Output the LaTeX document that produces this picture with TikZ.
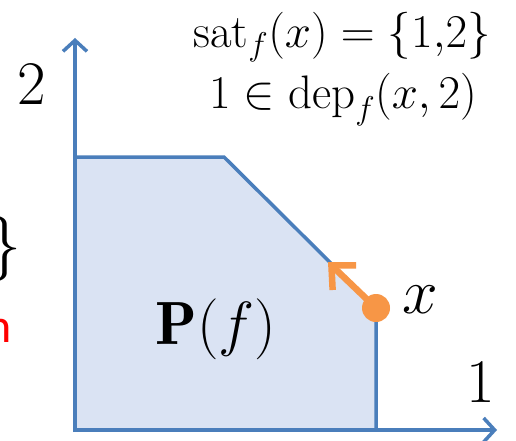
\RequirePackage{fix-cm}
\documentclass[tikz,border=0pt]{standalone}
\usepackage{fontspec}
\usetikzlibrary{arrows.meta}
\newfontfamily\calfont{Carlito}
\definecolor{axisblue}{HTML}{4A7EBB}
\definecolor{polyfill}{HTML}{DAE3F3}
\definecolor{dotorange}{HTML}{F79646}
\tikzset{
  axisline/.style={draw=axisblue, line width=3.5pt, -{Straight Barb[length=11pt,width=24pt]}},
  edgeline/.style={draw=axisblue, line width=3.5pt, line join=miter},
  bigtxt/.style={inner sep=0pt, font=\fontsize{62}{62}\selectfont},
  mathtxt/.style={inner sep=0pt, font=\fontsize{47}{47}\selectfont},
}
\begin{document}
\begin{tikzpicture}[x=1pt,y=-1pt]
\clip (0,0) rectangle (516,441);
\fill[white] (0,0) rectangle (516,441);
% region
\coordinate (o) at (75,430);
\coordinate (a) at (75,157);
\coordinate (b) at (224,157);
\coordinate (c) at (376,308);
\coordinate (d) at (376,430);
\fill[polyfill] (o) -- (a) -- (b) -- (c) -- (d) -- cycle;
\draw[edgeline] (a) -- (b) -- (c) -- (d);
% axes
\coordinate (ytip) at (75,38);
\coordinate (xtip) at (497,430);
\draw[axisline] (75,432) -- (ytip);
\draw[axisline] (73,430) -- (xtip);
% labels
\node[bigtxt] (two) at (32,85) {$2$};
\node[bigtxt] (one) at (481,383) {$1$};
\node[mathtxt, anchor=base] (sat) at (342,48) {$\mathrm{sat}_f(x) = \{1{,}2\}$};
\node[mathtxt, anchor=base] (dep) at (343,109) {$1 \in \mathrm{dep}_f(x, 2)$};
\node[inner sep=0pt, anchor=base, font=\fontsize{61}{61}\selectfont] (pf) at (216,344) {$\mathbf{P}(f)$};
\node[inner sep=0pt, anchor=base, font=\fontsize{64}{64}\selectfont] (xl) at (420,313) {$x$};
\node[inner sep=0pt, anchor=base east, font=\fontsize{66}{66}\selectfont] (brace) at (22,265) {$\}$};
\node[inner sep=0pt, anchor=base east, text=red, font=\calfont\fontsize{48}{48}\selectfont] (redn) at (12,342) {n};
% orange point and arrow
\coordinate (tip) at (328,262);
\draw[dotorange, line width=6.5pt, -{Straight Barb[length=18pt,width=34pt]}] (c) -- (tip);
\fill[dotorange] (c) circle (14);
\end{tikzpicture}
\end{document}
